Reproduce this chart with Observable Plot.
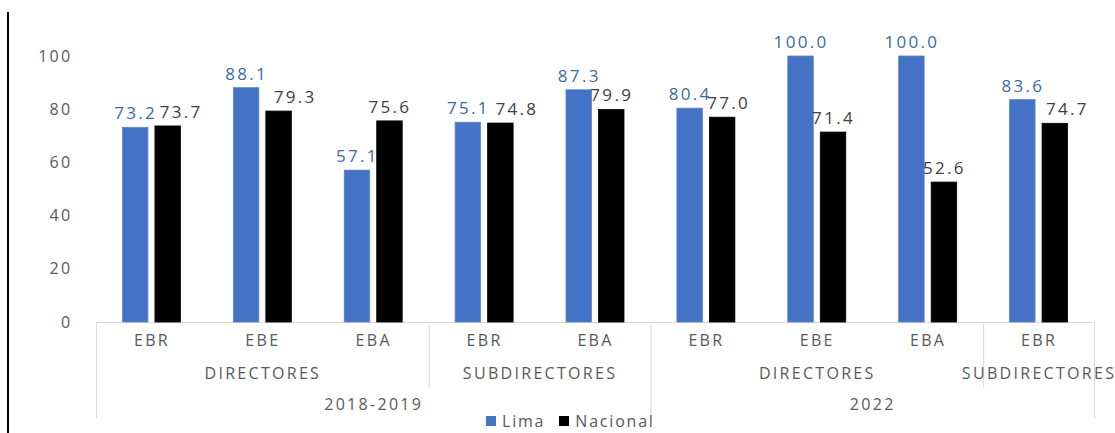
<!DOCTYPE html>
<html>
<head>
<meta charset="utf-8">
<script src="https://cdn.jsdelivr.net/npm/d3@7"></script>
<script src="https://cdn.jsdelivr.net/npm/@observablehq/plot@0.6"></script>
<style>
  html, body { margin: 0; padding: 0; background: #fff; }
  #wrap { position: relative; width: 1115px; height: 433px; overflow: hidden; font-family: "Open Sans", sans-serif; }
  #edge { position: absolute; left: 7px; top: 12px; width: 2px; height: 421px; background: #000; }
  #legend { position: absolute; top: 410px; left: 486px; display: flex; align-items: center; font-size: 16px; letter-spacing: 1.8px; color: #595959; white-space: nowrap; }
  #legend .sw { display: inline-block; width: 10px; height: 10px; margin-right: 6px; }
  #legend .item { display: flex; align-items: center; margin-right: 14px; }
</style>
</head>
<body>
<div id="wrap">
  <div id="chart"></div>
  <div id="edge"></div>
  <div id="legend"></div>
</div>
<script>
// ---- data ----
const categories = ["EBR", "EBE", "EBA", "EBR", "EBA", "EBR", "EBE", "EBA", "EBR"];
const roles = ["DIRECTORES", "DIRECTORES", "DIRECTORES", "SUBDIRECTORES", "SUBDIRECTORES",
               "DIRECTORES", "DIRECTORES", "DIRECTORES", "SUBDIRECTORES"];
const periods = ["2018-2019", "2018-2019", "2018-2019", "2018-2019", "2018-2019",
                 "2022", "2022", "2022", "2022"];
const lima = [73.2, 88.1, 57.1, 75.1, 87.3, 80.4, 100.0, 100.0, 83.6];
const nacional = [73.7, 79.3, 75.6, 74.8, 79.9, 77.0, 71.4, 52.6, 74.7];
const seriesNames = ["Lima", "Nacional"];
const yTicks = [0, 20, 40, 60, 80, 100];

// ---- styles ----
const colors = ["#4472C4", "#000000"];
const labelColors = {Lima: "#3b6aa3", Nacional: "#404040"};
const barSpan = {Lima: [0.2385, 0.4684], Nacional: [0.5316, 0.7615]};
// horizontal nudges (px) of some Nacional value labels, as in the original
const nacionalLabelNudge = {0: 13, 1: 16, 3: 16, 5: 6, 8: 12};

// ---- derived tables ----
const rows = [];
categories.forEach((c, i) => {
  rows.push({i, cat: c, series: "Lima", value: lima[i]});
  rows.push({i, cat: c, series: "Nacional", value: nacional[i]});
});
function runs(arr, keyFn) {
  const out = [];
  arr.forEach((v, i) => {
    const k = keyFn(i);
    const last = out[out.length - 1];
    if (last && last.key === k) last.end = i + 1;
    else out.push({key: k, label: v, start: i, end: i + 1});
  });
  return out;
}
const roleRuns = runs(roles, i => periods[i] + "|" + roles[i]);
const periodRuns = runs(periods, i => periods[i]);
const roleBounds = roleRuns.map(r => r.start);
const periodBounds = [...periodRuns.map(r => r.start), categories.length];

const font = '"Open Sans", sans-serif';
const gray = "#595959";
const nudgeOf = d => d.series === "Nacional" ? (nacionalLabelNudge[d.i] || 0) : 0;
const nudges = Array.from(new Set(rows.map(nudgeOf)));

const labelMarks = nudges.map(n => Plot.text(rows.filter(d => nudgeOf(d) === n), {
  x: d => d.i + (barSpan[d.series][0] + barSpan[d.series][1]) / 2,
  y: "value",
  text: d => d.value.toFixed(1),
  dy: -14,
  dx: n,
  fontSize: 17,
  letterSpacing: "1.5px",
  fill: d => labelColors[d.series]
}));

const plot = Plot.plot({
  width: 1115,
  height: 433,
  marginLeft: 96,
  marginRight: 21,
  marginTop: 56,
  marginBottom: 111,
  style: {fontFamily: font, fontSize: "16px", letterSpacing: "2.3px", background: "transparent", overflow: "visible"},
  x: {domain: [0, categories.length], axis: null},
  y: {domain: [0, 100], axis: null},
  color: {domain: seriesNames, range: colors},
  marks: [
    Plot.ruleY([0], {stroke: "#d9d9d9", strokeWidth: 1.2}),
    Plot.ruleX(roleBounds.filter(b => !periodBounds.includes(b)), {x: d => d, stroke: "#d9d9d9", insetTop: 266, insetBottom: -66}),
    Plot.ruleX(periodBounds, {x: d => d, stroke: "#d9d9d9", insetTop: 266, insetBottom: -96}),
    Plot.rectY(rows, {
      x1: d => d.i + barSpan[d.series][0],
      x2: d => d.i + barSpan[d.series][1],
      y: "value",
      fill: "series",
      stroke: d => d.series === "Lima" ? "#5a86cf" : "#000",
      strokeWidth: 0.8
    }),
    Plot.axisY({ticks: yTicks, tickSize: 0, tickPadding: 24, fill: gray, fontSize: 16, label: null}),
    ...labelMarks,
    Plot.text(categories, {x: (d, i) => i + 0.5, text: d => d, frameAnchor: "bottom", dy: 23, fontSize: 16, fill: gray}),
    Plot.text(roleRuns, {x: d => (d.start + d.end) / 2, text: "label", frameAnchor: "bottom", dy: 56, fontSize: 16, fill: gray}),
    Plot.text(periodRuns, {x: d => (d.start + d.end) / 2, text: "label", frameAnchor: "bottom", dy: 87, fontSize: 16, fill: gray})
  ]
});
document.getElementById("chart").appendChild(plot);

// legend
const legend = document.getElementById("legend");
seriesNames.forEach((s, k) => {
  const item = document.createElement("span");
  item.className = "item";
  const sw = document.createElement("span");
  sw.className = "sw";
  sw.style.background = colors[k];
  item.appendChild(sw);
  item.appendChild(document.createTextNode(s));
  legend.appendChild(item);
});
</script>
</body>
</html>
